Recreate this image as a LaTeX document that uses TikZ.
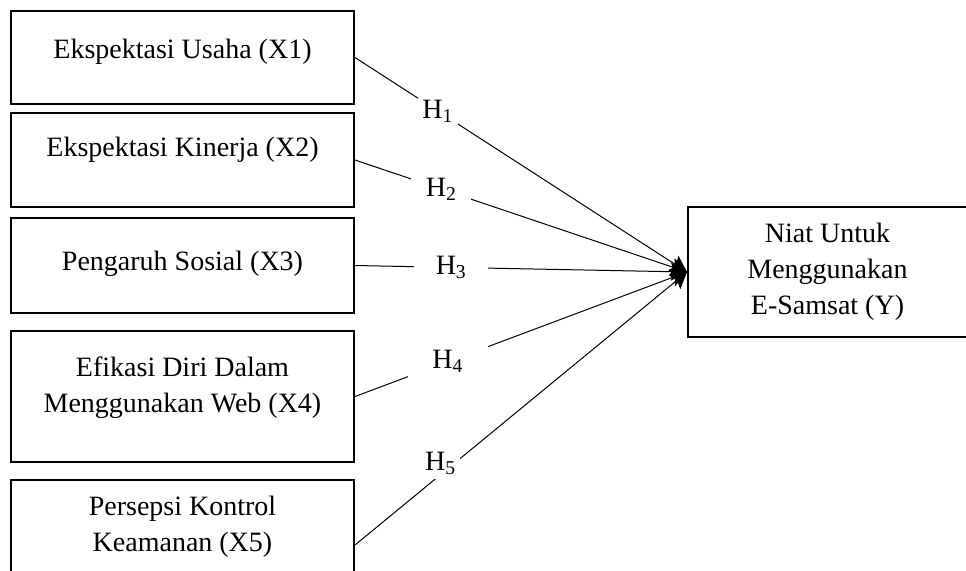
\documentclass[tikz,border=0pt]{standalone}
\usepackage{fontspec}
\setmainfont{Liberation Serif}
\usepackage{tikz}
\usetikzlibrary{arrows.meta,positioning}

\begin{document}
\begin{tikzpicture}[
    x = 0.5pt, y = -0.5pt, % one unit = one pixel of the scan
    > = {Stealth[length=8pt,width=9pt,inset=1.5pt]}, % arrow head style
    line width = 0.5pt % line style
    ]

    \tikzset{box/.style={
    draw = black,
    line width = 1pt,
    align = center,
    minimum width = 171.5pt,
    font = \fontsize{14}{18}\selectfont
    }}
    \tikzset{hyp/.style={
    fill = white,
    inner sep = 2pt,
    font = \fontsize{14}{16}\selectfont
    }}
    \useasboundingbox (0,0) rectangle (966,570);

    % independent variables
    \node[box, minimum height=46.5pt, text height=10pt, text depth=9.5pt] (x1) at (182.5,57.5) {Ekspektasi Usaha (X1)};
    \node[box, minimum height=47pt, text height=10pt, text depth=14pt] (x2) at (182.5,160) {Ekspektasi Kinerja (X2)};
    \node[box, minimum height=47.5pt, text height=10pt, text depth=5pt] (x3) at (182.5,265.5) {Pengaruh Sosial (X3)};
    \node[box, minimum height=65.5pt, text height=28pt, text depth=12pt] (x4) at (182.5,396.5) {Efikasi Diri Dalam\\Menggunakan Web (X4)};
    \node[box, minimum height=65.5pt, text height=28pt, text depth=22pt] (x5) at (182.5,545) {Persepsi Kontrol\\Keamanan (X5)};

    % dependent variable
    \node[box, minimum width=139.5pt, minimum height=65pt] (y) at (827.5,272) {Niat Untuk\\Menggunakan\\E-Samsat (Y)};

    \draw[->] (x1.east) -- node[hyp, pos=0.25]{H\textsubscript{1}} (y.west);
    \draw[->] (x2.east) -- node[hyp, pos=0.26, minimum width=30pt]{H\textsubscript{2}} (y.west);
    \draw[->] (x3.east) -- node[hyp, pos=0.29, minimum width=37pt]{H\textsubscript{3}} (y.west);
    \draw[->] (x4.east) -- node[hyp, pos=0.28, minimum width=40pt, minimum height=22pt]{H\textsubscript{4}} (y.west);
    \draw[->] (x5.east) -- node[hyp, pos=0.27, yshift=4pt, xshift=-2pt]{H\textsubscript{5}} (y.west);
\end{tikzpicture}
\end{document}
